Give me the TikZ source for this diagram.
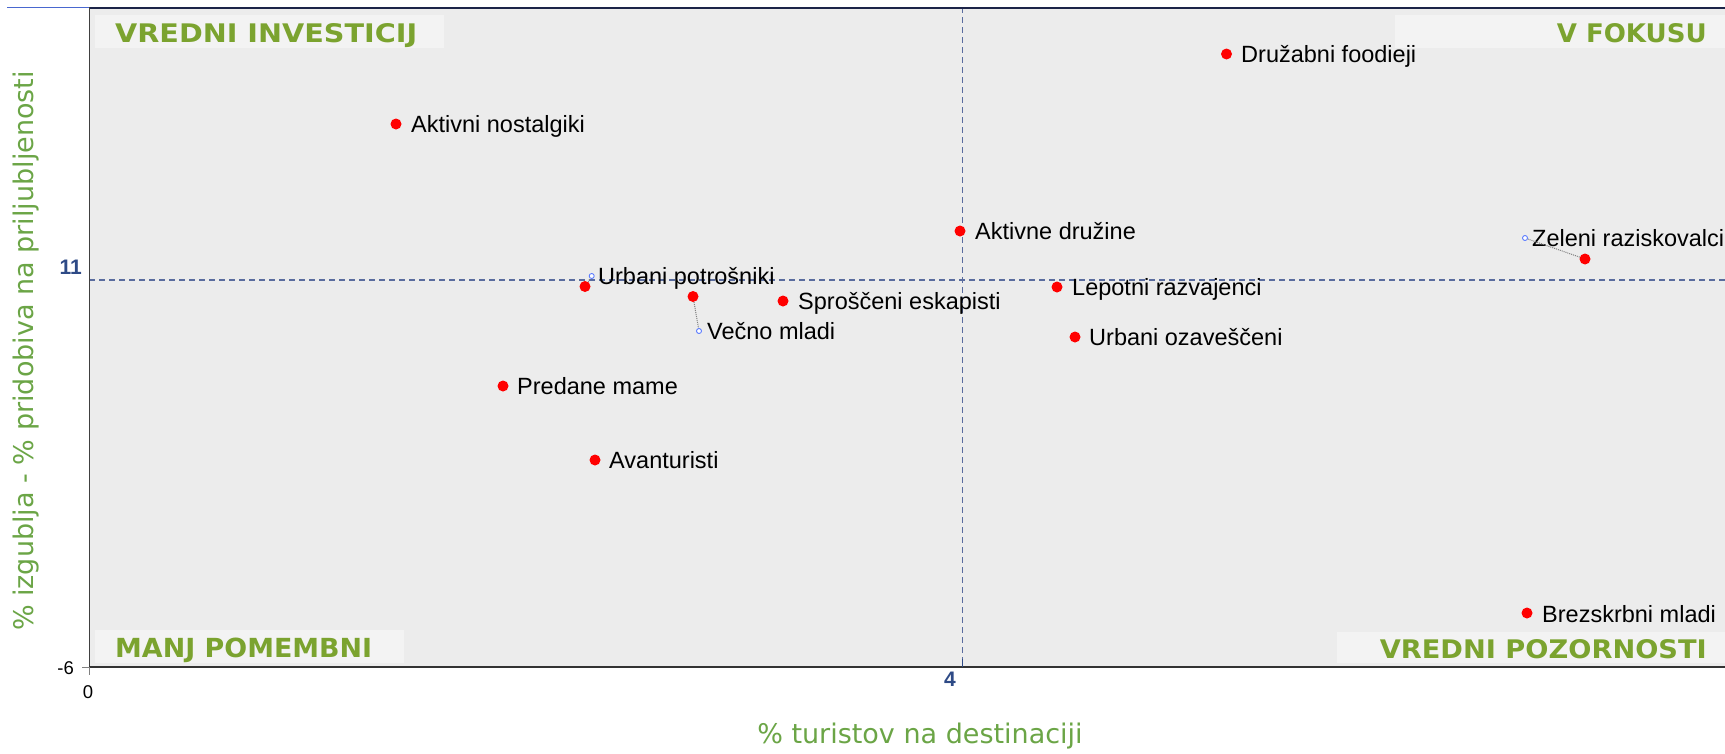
\documentclass[tikz,border=0pt]{standalone}
\usepackage{fontspec}
\usepackage{graphicx}
\setmainfont{Liberation Sans}
\newfontfamily\dejavu{DejaVu Sans}
\definecolor{plotbg}{HTML}{ECECEC}
\definecolor{qbox}{HTML}{F3F3F3}
\definecolor{qgreen}{HTML}{7BA32F}
\definecolor{agreen}{HTML}{6BA546}
\definecolor{navy}{HTML}{2E4A86}
\definecolor{dashc}{HTML}{5A6C9E}
\definecolor{ptred}{HTML}{FF0000}
\definecolor{ringblue}{HTML}{5B7BFF}
\definecolor{topline}{HTML}{1C2448}
\begin{document}
\begin{tikzpicture}[x=1pt,y=-1pt,
  dot/.style={circle,fill=ptred,draw=none,minimum size=11pt,inner sep=0pt},
  ring/.style={circle,draw=ringblue,line width=0.9pt,minimum size=5pt,inner sep=0pt,fill=white},
  lbl/.style={anchor=base west,inner sep=0pt,font=\fontsize{23.5}{28}\selectfont},
  leader/.style={draw=gray,densely dotted,line width=1pt},
  qlbl/.style={inner sep=0pt,text=qgreen,font=\dejavu\bfseries\fontsize{26}{30}\selectfont},
  axlbl/.style={inner sep=0pt,text=agreen,font=\dejavu\fontsize{27}{32}\selectfont},
  ticklbl/.style={inner sep=0pt,font=\fontsize{18.5}{22}\selectfont},
  navylbl/.style={inner sep=0pt,text=navy,font=\bfseries\fontsize{21}{24}\selectfont},
  quadline/.style={draw=dashc,dashed,dash pattern=on 6pt off 4pt,line width=1.2pt}
]
\useasboundingbox (0,0) rectangle (1725,753);
\fill[white] (0,0) rectangle (1725,753);
% plot area
\fill[plotbg] (89,7) rectangle (1725,667);
% quadrant label boxes
\fill[qbox] (95,15) rectangle (444,48);
\fill[qbox] (1395,15) rectangle (1725,48);
\fill[qbox] (95,630) rectangle (404,663);
\fill[qbox] (1337,632) rectangle (1725,663);
% quadrant dividing lines
\draw[quadline] (962.7,7) -- (962.7,667);
\draw[quadline] (89,280) -- (1725,280);
% borders
\draw[draw=ringblue!60!navy,line width=0.8pt] (7,7.5) -- (89,7.5);
\draw[draw=topline,line width=2pt] (89,7.5) -- (1725,7.5);
\draw[draw=black!75,line width=1.5pt] (89.3,7) -- (89.3,667);
\draw[draw=black!80,line width=2pt] (89,667) -- (1725,667);
% ticks
\draw[draw=gray,line width=1pt] (82,667) -- (89,667);
\draw[draw=gray,line width=1pt] (89.3,667) -- (89.3,675);
\draw[draw=navy,line width=1.2pt] (962.7,659) -- (962.7,667);
% tick labels
\node[navylbl,anchor=base east] (t11) at (82,274.5) {11};
\node[navylbl,anchor=base] (t4) at (950,686.5) {4};
\node[ticklbl,anchor=base east] (tm6) at (74,674.5) {-6};
\node[ticklbl,anchor=base] (t0) at (88,698) {0};
% quadrant labels
\node[qlbl,anchor=base west] (qvi) at (115,42) {\resizebox{302pt}{19pt}{VREDNI INVESTICIJ}};
\node[qlbl,anchor=base east] (qvf) at (1707,42) {\resizebox{150pt}{19pt}{V FOKUSU}};
\node[qlbl,anchor=base west] (qmp) at (115,657) {\resizebox{257pt}{19.5pt}{MANJ POMEMBNI}};
\node[qlbl,anchor=base east] (qvp) at (1707,658) {\resizebox{327pt}{19pt}{VREDNI POZORNOSTI}};
% axis labels
\node[axlbl] (xl) at (920,736) {\% turistov na destinaciji};
\node[axlbl,rotate=90] (yl) at (26,351) {\% izgubljа - \% pridobiva na priljubljenosti};
% data points
\node[dot] (d1) at (1226.5,54) {};
\node[lbl] (l1) at (1241,62.5) {Družabni foodieji};
\node[dot] (d2) at (396,124) {};
\node[lbl] (l2) at (411,132.5) {Aktivni nostalgiki};
\node[dot] (d3) at (960,231) {};
\node[lbl] (l3) at (975,239.5) {Aktivne družine};
\node[dot] (d4) at (1585,259) {};
\node[ring] (r4) at (1525,238) {};
\node[lbl] (l4) at (1532,246) {Zeleni raziskovalci};
\node[dot] (d5) at (585,286.5) {};
\node[ring] (r5) at (591.7,276) {};
\node[lbl] (l5) at (598,284) {Urbani potrošniki};
\node[dot] (d6) at (693,296.5) {};
\node[ring] (r6) at (699,331) {};
\node[lbl] (l6) at (707,339) {Večno mladi};
\node[dot] (d7) at (783,301) {};
\node[lbl] (l7) at (798,309.5) {Sproščeni eskapisti};
\node[dot] (d8) at (1057,287) {};
\node[lbl] (l8) at (1072,295.5) {Lepotni razvajenci};
\node[dot] (d9) at (1075,337) {};
\node[lbl] (l9) at (1089,345.5) {Urbani ozaveščeni};
\node[dot] (d10) at (503,386) {};
\node[lbl] (l10) at (517,394.5) {Predane mame};
\node[dot] (d11) at (595,460) {};
\node[lbl] (l11) at (609,468.5) {Avanturisti};
\node[dot] (d12) at (1527,613) {};
\node[lbl] (l12) at (1542,622.5) {Brezskrbni mladi};
% leader lines
\draw[leader] (d4) -- (r4);
\draw[leader] (d5) -- (r5);
\draw[leader] (d6) -- (r6);
\end{tikzpicture}
\end{document}
